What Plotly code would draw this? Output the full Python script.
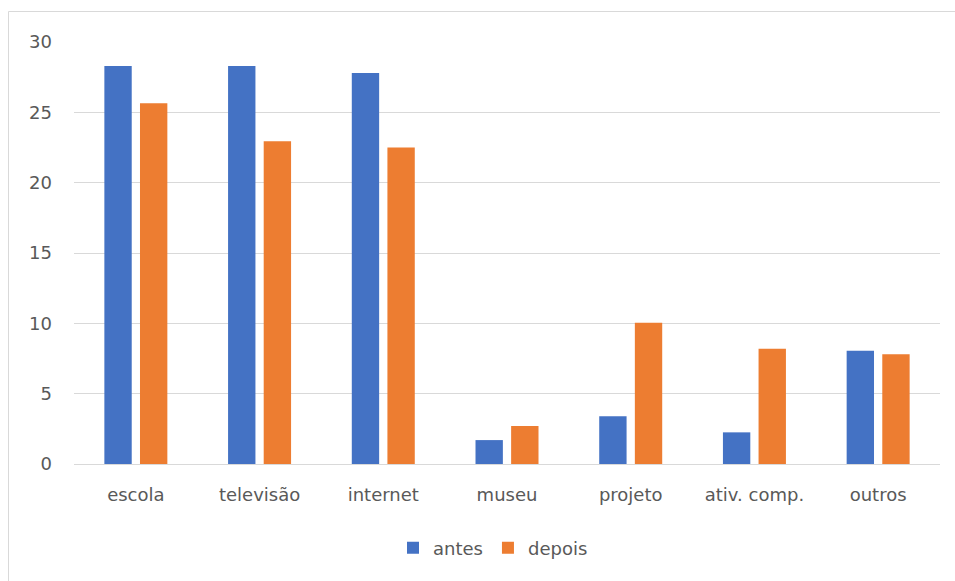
import plotly.graph_objects as go

categories = ["escola", "televisão", "internet", "museu", "projeto", "ativ. comp.", "outros"]
antes = [28.3, 28.3, 27.8, 1.7, 3.4, 2.25, 8.05]
depois = [25.65, 22.95, 22.5, 2.7, 10.05, 8.2, 7.8]
y_ticks = [0, 5, 10, 15, 20, 25, 30]

BLUE = "#4472C4"
ORANGE = "#ED7D31"
GRID = "#d9d9d9"
TEXT = "#595959"
FONT = "DejaVu Sans"

W, H = 955, 581
ML, MR, MT, MB = 74, 15, 42, 117
pw = W - ML - MR
ph = H - MT - MB

fig = go.Figure()
fig.add_trace(go.Bar(x=categories, y=antes, name="antes", marker_color=BLUE, marker_line_width=0))
fig.add_trace(go.Bar(x=categories, y=depois, name="depois", marker_color=ORANGE, marker_line_width=0))

fig.update_layout(
    width=W, height=H,
    margin=dict(l=ML, r=MR, t=MT, b=MB, pad=0),
    paper_bgcolor="white", plot_bgcolor="white",
    barmode="group", bargap=0.424, bargroupgap=0.232,
    font=dict(family=FONT, size=18, color=TEXT),
    showlegend=True,
    legend=dict(orientation="h", x=(493 - ML) / pw, xanchor="center",
                y=-(548 - (MT + ph)) / ph, yanchor="middle",
                font=dict(family=FONT, size=18, color=TEXT),
                itemwidth=30, tracegroupgap=0, bgcolor="rgba(0,0,0,0)"),
    xaxis=dict(showgrid=False, showline=False, zeroline=False, ticks="",
               tickfont=dict(family=FONT, size=18, color=TEXT), ticklabelstandoff=18),
    yaxis=dict(range=[0, 30], tickvals=y_ticks, showgrid=True, gridcolor=GRID, gridwidth=1,
               zeroline=True, zerolinecolor=GRID, zerolinewidth=1, showline=False, ticks="",
               tickfont=dict(family=FONT, size=18, color=TEXT), ticklabelstandoff=21),
    shapes=[dict(type="rect", xref="paper", yref="paper",
                 x0=(8.5 - ML) / pw, x1=1.5, y0=-1, y1=(MT + ph - 11.5) / ph,
                 line=dict(color=GRID, width=1), fillcolor="rgba(0,0,0,0)", layer="below")],
)

fig.write_html("out.html")
